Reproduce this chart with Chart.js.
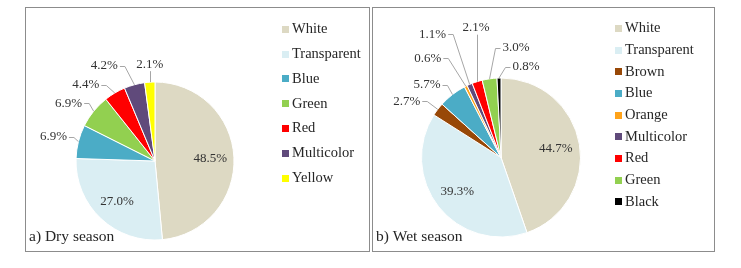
<!DOCTYPE html>
<html>
<head>
<meta charset="utf-8">
<script src="https://cdn.jsdelivr.net/npm/chart.js@4.4.1/dist/chart.umd.min.js"></script>
<style>
  body { margin: 0; background: #fff; width: 741px; height: 268px; overflow: hidden; }
  .panel { position: absolute; top: 7px; height: 245px; border: 1px solid #8c8c8c; box-sizing: border-box; }
  canvas { position: absolute; left: 0; top: 0; }
</style>
</head>
<body>
<div class="panel" style="left:25px; width:345px;"><canvas id="dryChart" width="343" height="243"></canvas></div>
<div class="panel" style="left:372px; width:343px;"><canvas id="wetChart" width="341" height="243"></canvas></div>
<script>
// percentages
const dryLabels = ['White', 'Transparent', 'Blue', 'Green', 'Red', 'Multicolor', 'Yellow'];
const dryValues = [48.5, 27.0, 6.9, 6.9, 4.4, 4.2, 2.1];

const wetLabels = ['White', 'Transparent', 'Brown', 'Blue', 'Orange', 'Multicolor', 'Red', 'Green', 'Black'];
const wetValues = [44.7, 39.3, 2.7, 5.7, 0.6, 1.1, 2.1, 3.0, 0.8];

const colorOf = {
  White: '#DDD9C3',
  Transparent: '#DAEEF3',
  Blue: '#4BACC6',
  Green: '#92D050',
  Red: '#FF0000',
  Multicolor: '#604A7B',
  Yellow: '#FFFF00',
  Brown: '#984807',
  Orange: '#FFA31A',
  Black: '#000000'
};

const serif = '"Liberation Serif", "Times New Roman", serif';

// data labels, leader lines, legend and caption
const pieExtras = {
  id: 'pieExtras',
  afterDatasetsDraw(chart, args, opts) {
    const ctx = chart.ctx;
    const meta = chart.getDatasetMeta(0);
    const values = chart.data.datasets[0].data;
    const labels = chart.data.labels;
    ctx.save();
    ctx.font = '13px ' + serif;
    ctx.textAlign = 'center';
    ctx.textBaseline = 'middle';
    meta.data.forEach(function(arc, i) {
      const p = arc.getProps(['x', 'y', 'startAngle', 'endAngle', 'outerRadius'], true);
      const mid = (p.startAngle + p.endAngle) / 2;
      const text = values[i].toFixed(1) + '%';
      ctx.fillStyle = '#333';
      if (!opts.offsets[i]) {
        const r = p.outerRadius * 0.7;
        ctx.fillText(text, p.x + Math.cos(mid) * r, p.y + Math.sin(mid) * r);
        return;
      }
      const ex = p.x + Math.cos(mid) * p.outerRadius;
      const ey = p.y + Math.sin(mid) * p.outerRadius;
      const lx = ex + opts.offsets[i][0];
      const ly = ey + opts.offsets[i][1];
      const half = ctx.measureText(text).width / 2;
      ctx.strokeStyle = '#a6a6a6';
      ctx.lineWidth = 1;
      ctx.beginPath();
      if (Math.abs(lx - ex) < half) {
        const vx = Math.round(ex) + 0.5;
        ctx.moveTo(vx, ly + 7);
        ctx.lineTo(vx, ey);
      } else {
        const side = lx < ex ? 1 : -1;
        const sx = lx + side * (half + 2);
        ctx.moveTo(sx, Math.round(ly) + 0.5);
        ctx.lineTo(sx + side * 5, Math.round(ly) + 0.5);
        ctx.lineTo(ex, ey);
      }
      ctx.stroke();
      ctx.fillText(text, lx, ly);
    });

    ctx.font = '14.5px ' + serif;
    ctx.textAlign = 'left';
    labels.forEach(function(name, i) {
      const y = opts.legendY + i * opts.rowGap;
      ctx.fillStyle = colorOf[name];
      ctx.fillRect(opts.legendX, Math.round(y - 3.5), 7, 7);
      ctx.fillStyle = '#262626';
      ctx.fillText(name, opts.legendX + 10, y);
    });

    ctx.font = '15.5px ' + serif;
    ctx.fillStyle = '#262626';
    ctx.fillText(opts.caption, 3, 229);
    ctx.restore();
  }
};

function createPie(id, labels, values, padding, extras) {
  const ctx = document.getElementById(id).getContext('2d');
  return new Chart(ctx, {
    type: 'pie',
    data: {
      labels: labels,
      datasets: [{
        data: values,
        backgroundColor: labels.map(function(name) { return colorOf[name]; }),
        borderColor: '#ffffff',
        borderWidth: 1
      }]
    },
    options: {
      responsive: false,
      animation: false,
      devicePixelRatio: 1,
      layout: { padding: padding },
      plugins: {
        legend: { display: false },
        tooltip: { enabled: false },
        pieExtras: extras
      }
    },
    plugins: [pieExtras]
  });
}

createPie('dryChart', dryLabels, dryValues,
  { left: 49.5, top: 73.5, right: 134.5, bottom: 10.5 },
  {
    caption: 'a) Dry season',
    legendX: 256, legendY: 21.3, rowGap: 24.8,
    offsets: [null, null, [-25, -5], [-25, -8], [-29, -8], [-30, -19], [0, -18]]
  });

createPie('wetChart', wetLabels, wetValues,
  { left: 48, top: 69.5, right: 133, bottom: 13.5 },
  {
    caption: 'b) Wet season',
    legendX: 242, legendY: 20.3, rowGap: 21.7,
    offsets: [null, null, [-31, -8], [-25.5, -9.5], [-38, -28], [-37, -50], [-1, -54], [26.5, -31], [27, -11]]
  });
</script>
</body>
</html>
